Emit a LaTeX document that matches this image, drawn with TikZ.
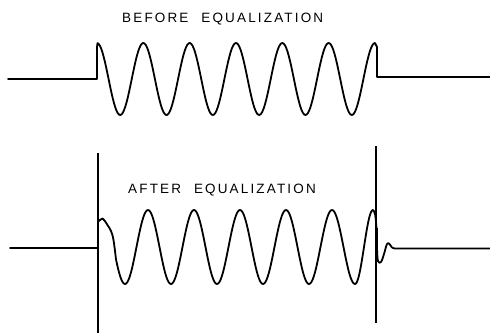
\documentclass[tikz,border=0pt]{standalone}
\usepackage{fontspec}
\newfontfamily\lab[LetterSpace=16]{Liberation Sans}
\begin{document}
\begin{tikzpicture}[x=1pt,y=-1pt,
  wave/.style={line width=1.8pt,line join=round,line cap=round},
  bar/.style={line width=2pt},
  caption/.style={font=\lab\fontsize{13.5}{15}\selectfont,inner sep=0pt,anchor=base west}]
\useasboundingbox (0,0) rectangle (490,333);
% texts
\node[caption] (t1) at (122,22) {BEFORE\hspace{7pt} EQUALIZATION};
\node[caption] (t2) at (128,193) {AFTER\hspace{7pt} EQUALIZATION};
% top waveform
\draw[wave] (8,79) -- (97,79) -- (97,47)
  -- plot[domain=97.5:375,samples=220] (\x,{79-36*cos(((\x-97)/46.33)*360)})
  -- (377,47) -- (377,77) -- (490,77);
% bottom verticals
\coordinate (l1) at (98,153);
\coordinate (l2) at (98,333);
\coordinate (r1) at (376,146);
\coordinate (r2) at (376,323);
\draw[bar] (l1) -- (l2);
\draw[bar,line width=2.3pt] (r1) -- (r2);
% bottom waveform
\draw[wave] (10,248) -- (98,248) -- (98,222)
  plot[smooth,tension=0.6] coordinates {(98,222) (100.5,219.5) (102.5,218.5) (104.5,220.5) (107.5,225) (111,231) (113.5,240) (116,259.4)}
  -- plot[domain=116:355,samples=220] (\x,{247+37*cos(((\x-125)/46)*360)})
  -- plot[domain=355:373,samples=40] (\x,{247+37*cos(((\x-355)/36)*360)})
  plot[smooth,tension=0.6] coordinates {(373,210) (375,214) (376.5,228) (377,248) (378,261) (381,262) (384,254) (387,244) (389.5,244) (392,247.5) (395,248.5)}
  -- (490,248.5);
\draw[line width=3pt] (376.8,228) -- (376.8,262);
\end{tikzpicture}
\end{document}
